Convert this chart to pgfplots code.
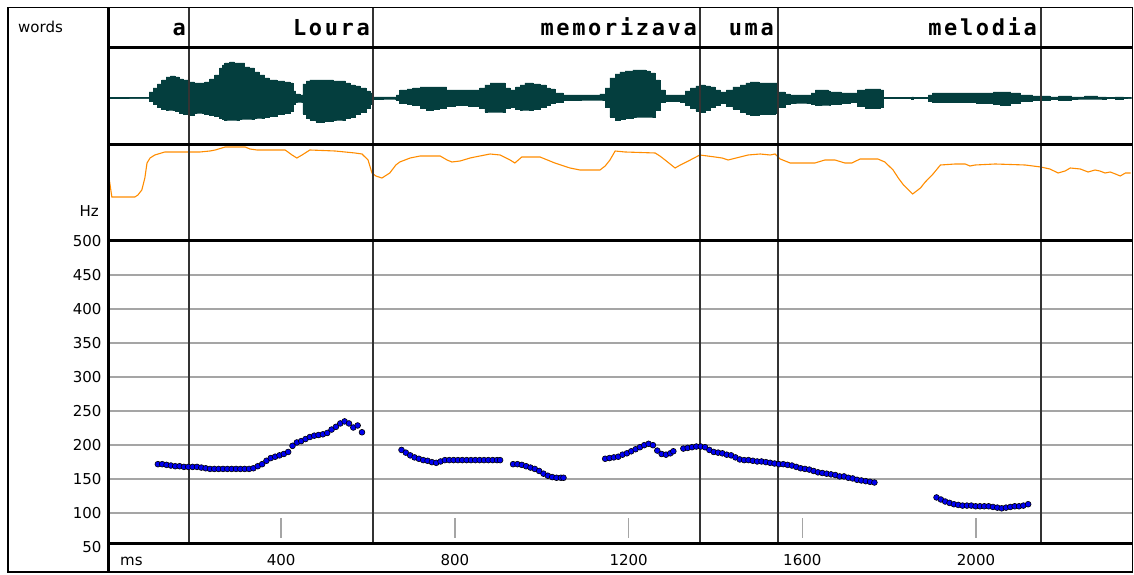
\documentclass[border=0pt]{standalone}
\usepackage{pgfplots}
\usepackage{pgfplotstable}
\pgfplotsset{compat=1.18}
\usepackage{fontspec}
\setmainfont{DejaVu Sans}
\newfontfamily\wordfont[LetterSpace=12]{DejaVu Sans Mono}
\newcommand\lab{\fontsize{15}{18}\selectfont}
\newcommand\wf{\wordfont\bfseries\fontsize{22}{26}\selectfont}
\definecolor{wave}{RGB}{4,62,62}
\definecolor{inten}{RGB}{255,140,0}
\definecolor{gridgray}{RGB}{165,165,165}
\definecolor{pitchblue}{RGB}{0,0,240}

\pgfplotstableread{
t up lo
0 0 0
1 0 -45
4 0 0
95 0 0
96 6 -3
105 10 -6
115 14 -9
125 18 -11
135 21 -12
145 22 -12
155 21 -13
165 19 -15
175 18 -16
187 16 -17
200 15 -15
212 15 -15
224 16 -16
235 19 -17
247 23 -18
258 30 -20
265 33 -21
270 35 -22
281 36 -22
292 35 -22
304 35 -21
316 31 -21
327 30 -21
338 26 -20
350 23 -20
362 20 -19
373 18 -18
390 17 -16
408 16 -15
420 15 -13
427 7 -6
433 4 -4
443 3 -4
450 14 -16
458 17 -20
466 18 -22
480 18 -24
500 18 -23
520 17 -22
535 17 -22
548 15 -20
558 13 -19
570 12 -16
581 10 -14
595 7 -10
604 5 -6
611 1 -1
660 1 -1
665 3 -2
673 8 -5
690 9 -6
703 10 -7
720 11 -10
735 11 -12
750 11 -11
765 11 -10
781 8 -8
800 8 -7
830 8 -8
857 10 -10
869 13 -14
881 15 -14
904 15 -14
915 10 -10
927 8 -9
940 11 -11
950 13 -12
961 15 -12
980 14 -11
996 13 -9
1010 10 -7
1019 9 -5
1030 5 -4
1050 3 -2
1134 4 -2
1146 10 -9
1157 20 -19
1169 24 -22
1180 26 -21
1192 27 -20
1210 28 -19
1226 28 -19
1240 27 -19
1249 25 -19
1261 18 -12
1272 8 -4
1284 3 -3
1319 3 -4
1330 7 -7
1342 10 -10
1355 12 -13
1365 13 -14
1376 12 -12
1388 11 -9
1399 8 -7
1411 6 -5
1425 8 -8
1440 11 -11
1457 13 -14
1470 15 -16
1480 16 -17
1500 15 -16
1537 15 -15
1545 6 -9
1560 4 -6
1572 3 -5
1600 3 -5
1620 5 -6
1630 8 -7
1660 7 -7
1664 6 -6
1690 5 -5
1710 5 -4
1727 8 -8
1745 9 -10
1780 8 -9
1787 0 0
1852 1 -1
1856 0 0
1890 3 -3
1900 5 -4
2000 5 -5
2040 6 -6
2056 6 -7
2080 5 -5
2102 3 -3
2130 2 -2
2170 1 -1
2190 2 -2
2220 1 -1
2250 2 -1
2280 1 -1
2300 0 0
2320 1 -1
2340 0 0
2358 0 0
}\wavedata

\pgfplotstableread{
t v
0 0
1 70
10 43
63 43
70 45
79 50
86 62
91 77
98 82
109 85
132 88
188 88
213 88
236 89
248 90
271 93
317 93
328 91
344 90
409 90
425 85
436 82
448 85
466 90
524 89
570 87
586 86
600 80
609 67
618 64
632 62
650 67
664 75
673 78
697 82
720 84
766 84
782 80
793 78
812 79
835 82
846 83
881 86
904 85
927 80
938 77
954 83
996 83
1030 77
1065 72
1088 70
1134 70
1146 74
1157 80
1169 89
1192 88
1261 87
1272 84
1284 80
1307 72
1319 75
1342 80
1364 85
1399 83
1415 82
1429 80
1457 83
1475 85
1503 86
1526 85
1537 86
1549 81
1572 77
1629 77
1652 80
1675 80
1698 77
1714 77
1733 81
1774 81
1790 78
1809 70
1821 62
1833 55
1854 46
1872 52
1883 58
1899 65
1918 75
1952 76
1975 76
1986 74
1998 75
2044 76
2113 75
2149 73
2170 71
2189 67
2205 69
2217 72
2240 71
2258 68
2274 70
2285 69
2297 67
2309 68
2321 66
2332 64
2344 67
2356 67
}\intdata

\pgfplotstableread{
t f
116 172
126 172
136 171
146 170
156 169
166 169
176 168
186 168
196 168
206 168
216 167
226 166
236 165
246 165
256 165
266 165
276 165
286 165
296 165
306 165
316 165
326 165
336 166
346 169
356 172
366 177
376 181
386 183
396 185
406 187
416 190
426 199
436 204
446 206
456 209
466 212
476 214
486 215
496 216
506 218
516 223
526 227
536 232
546 235
556 232
566 226
576 229
586 219
677 193
687 189
697 185
707 182
717 180
727 178
737 177
747 175
757 174
767 176
777 178
787 178
797 178
807 178
817 178
827 178
837 178
847 178
857 178
867 178
877 178
887 178
897 178
904 178
934 172
944 172
954 171
964 169
974 167
984 165
994 162
1004 158
1014 155
1024 153
1034 152
1044 152
1050 152
1146 180
1156 181
1166 182
1176 183
1186 186
1196 188
1206 191
1216 194
1226 197
1236 200
1246 202
1256 200
1266 192
1276 187
1286 186
1296 188
1303 191
1326 195
1336 196
1346 197
1356 198
1366 198
1376 197
1386 193
1396 190
1406 189
1416 188
1426 186
1436 185
1446 182
1456 179
1466 178
1476 178
1486 177
1496 176
1506 176
1516 175
1526 174
1536 173
1546 172
1556 172
1566 171
1576 170
1586 168
1596 166
1606 165
1616 164
1626 162
1636 160
1646 159
1656 158
1666 157
1676 156
1686 154
1696 154
1706 152
1716 151
1726 149
1736 148
1746 147
1756 146
1766 145
1909 123
1919 120
1929 117
1939 115
1949 113
1959 112
1969 111
1979 111
1989 111
1999 110
2009 110
2019 110
2029 110
2039 109
2049 108
2059 107
2069 108
2079 109
2089 110
2099 110
2109 111
2120 113
}\pitchdata

\begin{document}
\begin{tikzpicture}[x=1pt,y=1pt]
\useasboundingbox (0,0) rectangle (1134,574);
\pgfplotsset{panel/.style={scale only axis, width=1024pt, xmin=0, xmax=2358, anchor=south west}}

% waveform
\begin{axis}[panel, at={(107.5pt,429pt)}, height=97pt, ymin=-47, ymax=50, hide axis]
\addplot[const plot, fill=wave, draw=wave, line width=0.6pt] table[x=t,y=up]{\wavedata} \closedcycle;
\addplot[const plot, fill=wave, draw=wave, line width=0.6pt] table[x=t,y=lo]{\wavedata} \closedcycle;
\addplot[wave, line width=1pt] coordinates {(0,0) (2358,0)};
\end{axis}

% intensity
\begin{axis}[panel, at={(107.5pt,334pt)}, height=95pt, ymin=0, ymax=95, hide axis]
\addplot[inten, line width=1.1pt] table[x=t,y=v]{\intdata};
\end{axis}

% pitch grid and labels
\begin{axis}[panel, at={(107.5pt,27pt)}, height=305.5pt, ymin=50, ymax=500,
  axis line style={draw=none}, major tick length=0pt,
  ytick={100,150,...,450}, ymajorgrids, grid style={gridgray, line width=2pt},
  extra y ticks={50,500}, extra y tick style={grid=none},
  xtick={400,800,1200,1600,2000},
  tick label style={font=\lab},
  xticklabel style={anchor=base, yshift=-18pt},
  yticklabel style={anchor=east, xshift=-2.5pt},
  /pgf/number format/assume math mode=true, /pgf/number format/1000 sep={}]
\addplot[gridgray, line width=1.5pt] coordinates {(400,63.3) (400,92.7)};
\addplot[gridgray, line width=1.5pt] coordinates {(800,63.3) (800,92.7)};
\addplot[gridgray, line width=1.5pt] coordinates {(1200,63.3) (1200,92.7)};
\addplot[gridgray, line width=1.5pt] coordinates {(1600,63.3) (1600,92.7)};
\addplot[gridgray, line width=1.5pt] coordinates {(2000,63.3) (2000,92.7)};
\end{axis}

% word boundaries
\begin{axis}[panel, at={(107.5pt,30.5pt)}, height=535.5pt, ymin=0, ymax=1, hide axis]
\addplot[black!80, line width=1.8pt] coordinates {(187.7,0) (187.7,1)};
\addplot[black!80, line width=1.8pt] coordinates {(611.3,0) (611.3,1)};
\addplot[black!80, line width=1.8pt] coordinates {(1364.3,0) (1364.3,1)};
\addplot[black!80, line width=1.8pt] coordinates {(1543.9,0) (1543.9,1)};
\addplot[black!80, line width=1.8pt] coordinates {(2149.4,0) (2149.4,1)};
\end{axis}

% pitch points
\begin{axis}[panel, at={(107.5pt,27pt)}, height=305.5pt, ymin=50, ymax=500, hide axis]
\addplot[only marks, mark=*, mark size=2.9pt, mark options={fill=pitchblue, draw=black, line width=0.6pt}] table[x=t,y=f]{\pitchdata};
\end{axis}

% frames
\draw[line width=1.3pt] (8,2) rectangle (1132.5,566.5);
\draw[line width=3pt] (107.5,526) -- (1132.5,526);
\draw[line width=3pt] (107.5,429) -- (1132.5,429);
\draw[line width=3pt] (107.5,333.5) -- (1132.5,333.5);
\draw[line width=3pt] (107.5,30.5) -- (1132.5,30.5);
\draw[line width=2.8pt] (108.7,2) -- (108.7,566.5);

% texts
\node[anchor=base west, inner sep=0] at (18,541) {\lab words};
\node[anchor=base east, inner sep=0] at (99,358) {\lab Hz};
\node[anchor=base west, inner sep=0] at (120,9) {\lab ms};
\node[anchor=base east, inner sep=0] at (186,538) {\wf a};
\node[anchor=base east, inner sep=0] at (370,538) {\wf Loura};
\node[anchor=base east, inner sep=0] at (697,538) {\wf memorizava};
\node[anchor=base east, inner sep=0] at (774,538) {\wf uma};
\node[anchor=base east, inner sep=0] at (1037,538) {\wf melodia};
\end{tikzpicture}
\end{document}
